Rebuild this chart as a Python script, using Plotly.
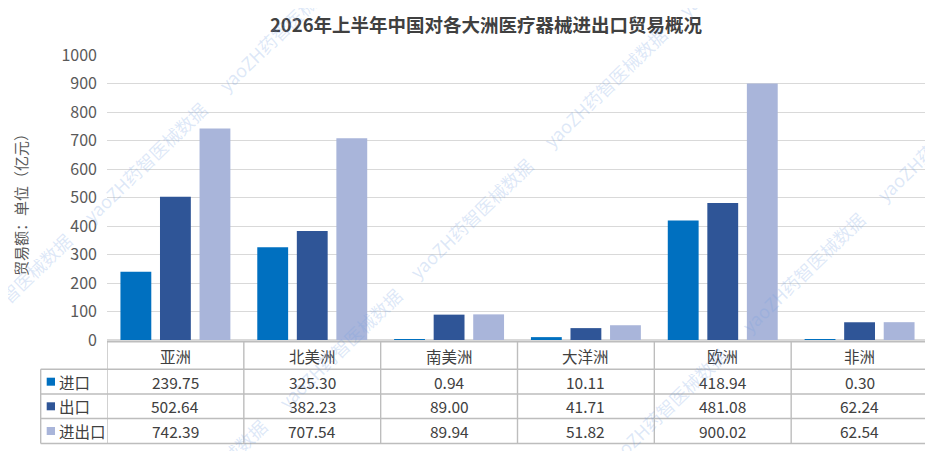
import plotly.graph_objects as go

continents = ["亚洲", "北美洲", "南美洲", "大洋洲", "欧洲", "非洲"]
imports = [239.75, 325.30, 0.94, 10.11, 418.94, 0.30]
exports = [502.64, 382.23, 89.00, 41.71, 481.08, 62.24]
totals = [742.39, 707.54, 89.94, 51.82, 900.02, 62.54]

series_names = ["进口", "出口", "进出口"]
series_values = [imports, exports, totals]
series_colors = ["#0070C0", "#2F5597", "#A9B5DA"]

FONT = "Noto Sans CJK SC"
# the page body has an 8px margin, so the figure sits at (8, 8) in the window
OFF = 8
W, H = 933 - OFF, 451 - OFF
L, R, T, B = 107 - OFF, 5, 55 - OFF, 111
PW, PH = W - L - R, H - T - B


def px_x(px):
    return (px - OFF - L) / PW


def px_y(py):
    return (T + PH - (py - OFF)) / PH


fig = go.Figure()
for name, vals, col in zip(series_names, series_values, series_colors):
    fig.add_trace(go.Bar(name=name, x=continents, y=vals, marker_color=col,
                         marker_line_width=0))

# data table under the plot
line = dict(color="#bdbdbd", width=1.4)
rows_y = [341.7, 369.3, 394, 418.5, 443.5]
shapes = []
shapes.append(dict(type="line", xref="paper", yref="paper", x0=0, x1=1,
                   y0=px_y(rows_y[0]), y1=px_y(rows_y[0]), line=line))
for ry in rows_y[1:]:
    shapes.append(dict(type="line", xref="paper", yref="paper", x0=px_x(40.7), x1=1,
                       y0=px_y(ry), y1=px_y(ry), line=line))
shapes.append(dict(type="line", xref="paper", yref="paper", x0=px_x(40.7), x1=px_x(40.7),
                   y0=px_y(rows_y[1]), y1=px_y(rows_y[-1]), line=line))
for i in range(len(continents) + 1):
    shapes.append(dict(type="line", xref="x", yref="paper", x0=i - 0.5, x1=i - 0.5,
                       y0=px_y(rows_y[0]), y1=px_y(rows_y[-1]), line=line))

annotations = []
txt = dict(family=FONT, size=15.5, color="#404040")
for i, c in enumerate(continents):
    annotations.append(dict(x=c, xref="x", yref="paper", y=px_y(355.5), text=c,
                            showarrow=False, font=txt, xanchor="center", yanchor="middle"))
row_centers = [381.7, 406.3, 431]
for k, (name, vals, col) in enumerate(zip(series_names, series_values, series_colors)):
    cy = row_centers[k]
    shapes.append(dict(type="rect", xref="paper", yref="paper", x0=px_x(46.7), x1=px_x(55),
                       y0=px_y(cy - 4), y1=px_y(cy + 4), fillcolor=col, line_width=0))
    annotations.append(dict(x=px_x(57), xref="paper", yref="paper", y=px_y(cy), text=name,
                            showarrow=False, font=txt, xanchor="left", yanchor="middle"))
    for c, v in zip(continents, vals):
        annotations.append(dict(x=c, xref="x", yref="paper", y=px_y(cy), text=f"{v:.2f}",
                                showarrow=False, font=txt, xanchor="center", yanchor="middle"))

# y axis title
annotations.append(dict(x=px_x(20), y=px_y(201), xref="paper", yref="paper",
                        text="贸易额：单位（亿元）", textangle=-90, showarrow=False,
                        xanchor="center", yanchor="middle",
                        font=dict(family=FONT, size=15, color="#595959")))

# watermark
marks = [(10, 293), (145, 162), (280, 31), (205, 479), (340, 348), (471, 218),
         (605, 87), (740, -44), (665, 408), (803, 272), (938, 141)]
for mx, my in marks:
    annotations.append(dict(x=px_x(mx), y=px_y(my), xref="paper", yref="paper",
                            text="yaoZH药智医械数据", textangle=-44, showarrow=False,
                            xanchor="center", yanchor="middle",
                            font=dict(family=FONT, size=18, color="rgba(120,160,225,0.25)")))

fig.update_layout(
    width=W, height=H,
    margin=dict(l=L, r=R, t=T, b=B),
    paper_bgcolor="white", plot_bgcolor="white",
    barmode="group", bargap=0.133, bargroupgap=0.22,
    showlegend=False,
    title=dict(text="<b>2026年上半年中国对各大洲医疗器械进出口贸易概况</b>",
               x=(486 - OFF) / W, xanchor="center", y=1 - (25.5 - OFF) / H, yanchor="middle",
               font=dict(family=FONT, size=18.5, color="#404040")),
    xaxis=dict(range=[-0.5, 5.5], showticklabels=False, showgrid=False,
               showline=False, zeroline=False, fixedrange=True),
    yaxis=dict(range=[0, 1000], dtick=100, showgrid=True, gridcolor="#d9d9d9",
               gridwidth=1, zeroline=True, zerolinecolor="#d9d9d9", showline=False,
               ticklabelstandoff=9,
               tickfont=dict(family=FONT, size=16, color="#595959")),
    font=dict(family=FONT),
    shapes=shapes,
    annotations=annotations,
)

fig.write_html("out.html")
